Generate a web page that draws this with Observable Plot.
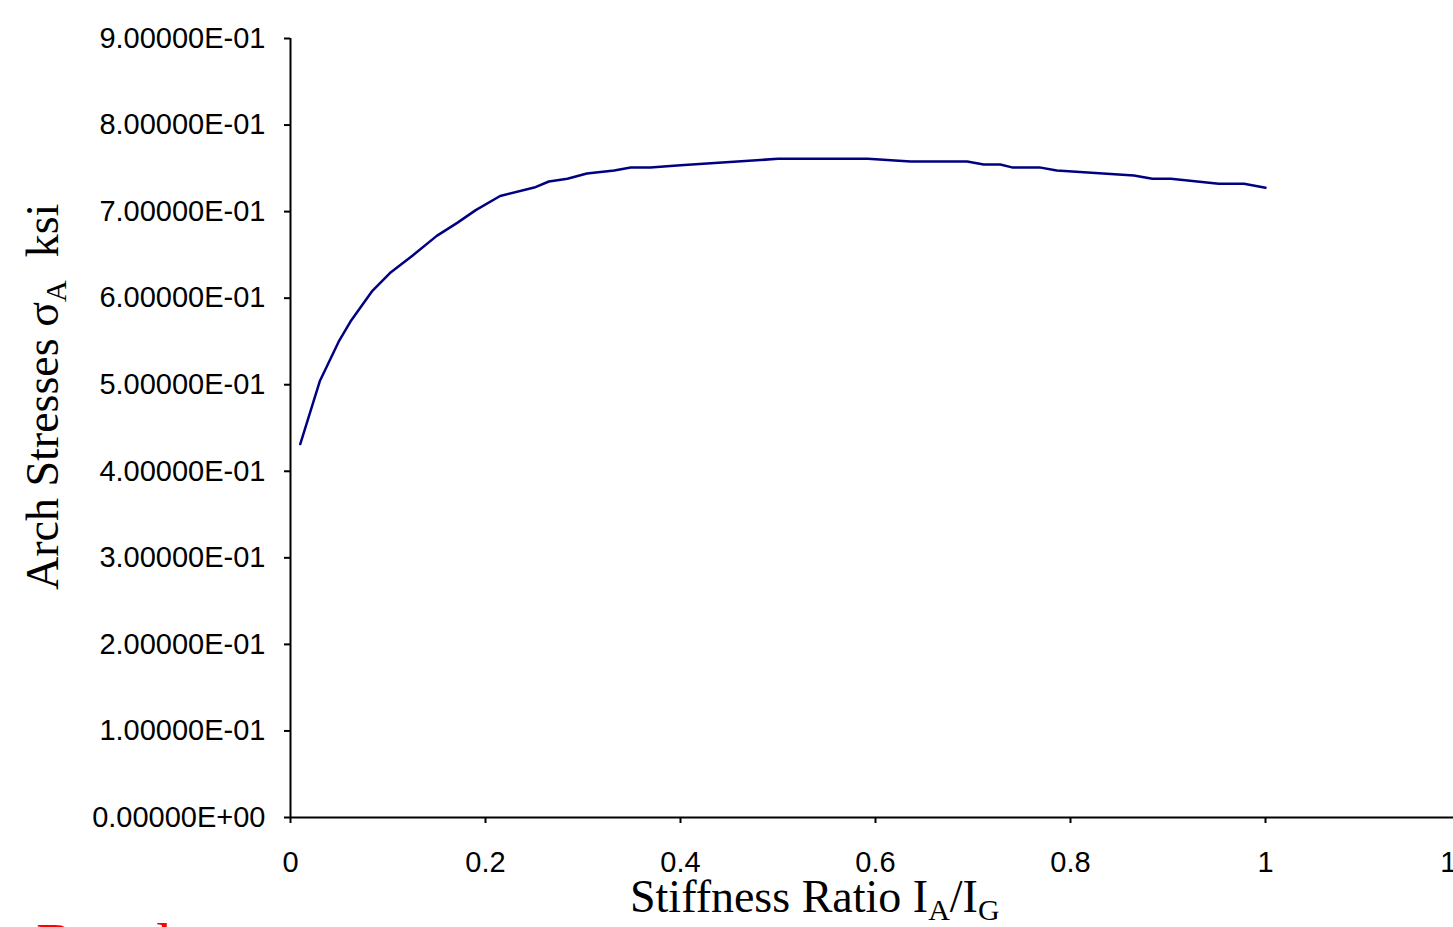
<!DOCTYPE html>
<html>
<head>
<meta charset="utf-8">
<script src="https://cdn.jsdelivr.net/npm/d3@7"></script>
<script src="https://cdn.jsdelivr.net/npm/@observablehq/plot@0.6"></script>
<style>
  html, body { margin: 0; padding: 0; background: #fff; overflow: hidden; width: 1453px; height: 927px; }
  #chart { position: absolute; left: 0; top: 0; }
  #next { position: absolute; left: 36px; top: 914px; font: 60px "Liberation Serif", "Times New Roman", serif; line-height: 60px; color: #ff0000; white-space: nowrap; }
</style>
</head>
<body>
<div id="chart"></div>
<div id="next">Results</div>
<script>
// Stiffness ratio I_A / I_G
const stiffnessRatio = [0.01, 0.03, 0.05, 0.0615, 0.084, 0.102, 0.125, 0.15, 0.171, 0.19, 0.215, 0.25, 0.265, 0.284, 0.304, 0.332, 0.349, 0.369, 0.4, 0.5, 0.592, 0.636, 0.694, 0.711, 0.728, 0.740, 0.768, 0.786, 0.865, 0.884, 0.903, 0.952, 0.978, 1.0];
// Arch stresses sigma_A (ksi)
const archStress = [0.4315, 0.504, 0.551, 0.573, 0.6085, 0.629, 0.649, 0.672, 0.687, 0.7017, 0.718, 0.7278, 0.7348, 0.738, 0.744, 0.7475, 0.751, 0.751, 0.7535, 0.761, 0.761, 0.7578, 0.7578, 0.7544, 0.7544, 0.7511, 0.7511, 0.7475, 0.7417, 0.738, 0.738, 0.7323, 0.7323, 0.7275];

const xTicks = [0, 0.2, 0.4, 0.6, 0.8, 1, 1.2];
const yTicks = [0, 0.1, 0.2, 0.3, 0.4, 0.5, 0.6, 0.7, 0.8, 0.9];

const data = stiffnessRatio.map((x, i) => ({x, y: archStress[i]}));

function sci(v) {
  if (v === 0) return "0.00000E+00";
  const [m, e] = v.toExponential(5).split("e");
  const n = +e;
  return m + "E" + (n < 0 ? "-" : "+") + String(Math.abs(n)).padStart(2, "0");
}
function plain(v) { return String(+v.toFixed(2)); }

const chart = Plot.plot({
  width: 1460,
  height: 927,
  marginLeft: 290,
  marginRight: 0,
  marginTop: 38,
  marginBottom: 110,
  style: {fontFamily: "'Liberation Sans', Arial, sans-serif", fontSize: "29px", color: "#000", background: "#fff", overflow: "visible", maxWidth: "none"},
  x: {domain: [0, 1.2]},
  y: {domain: [0, 0.9]},
  marks: [
    Plot.axisX(xTicks, {tickFormat: plain, tickSize: 6, tickPadding: 28, strokeWidth: 2, fontSize: 29, label: null}),
    Plot.axisY(yTicks, {tickFormat: sci, tickSize: 6, tickPadding: 19, strokeWidth: 2, fontSize: 29, label: null}),
    Plot.ruleY([0], {stroke: "#000", strokeWidth: 2}),
    Plot.ruleX([0], {stroke: "#000", strokeWidth: 2}),
    Plot.line(data, {x: "x", y: "y", stroke: "#000080", strokeWidth: 2.5})
  ]
});
chart.style.maxWidth = "none";
chart.setAttribute("width", 1460);
document.getElementById("chart").appendChild(chart);

const svg = d3.select(chart);
const serif = "'Liberation Serif', 'Times New Roman', serif";
const xt = svg.append("text")
  .attr("x", 630).attr("y", 912)
  .attr("text-anchor", "start")
  .attr("font-family", serif).attr("font-size", 46).attr("fill", "#000");
xt.append("tspan").text("Stiffness Ratio I");
xt.append("tspan").attr("font-size", 30).attr("dy", 8).text("A");
xt.append("tspan").attr("dy", -8).text("/I");
xt.append("tspan").attr("font-size", 30).attr("dy", 8).text("G");

const yt = svg.append("text")
  .attr("transform", "translate(58,590) rotate(-90)")
  .attr("text-anchor", "start")
  .attr("font-family", serif).attr("font-size", 46).attr("fill", "#000")
  .style("white-space", "pre");
yt.append("tspan").text("Arch Stresses \u03c3");
yt.append("tspan").attr("font-size", 30).attr("dy", 8).text("A");
yt.append("tspan").attr("dy", -8).text("  ksi");
</script>
</body>
</html>
